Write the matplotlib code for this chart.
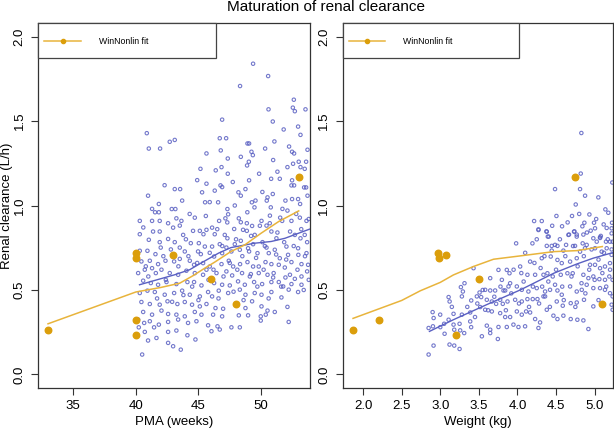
import matplotlib
matplotlib.use("Agg")
import matplotlib.pyplot as plt
from matplotlib.patches import Rectangle
from matplotlib.lines import Line2D

plt.rcParams['font.family'] = ['Liberation Sans', 'DejaVu Sans']

# ---------------- data ----------------
left_pts = [
    (49.36,1.839),(50.56,1.766),(48.32,1.707),(52.61,1.626),(52.53,1.579),(52.69,1.558),
    (50.59,1.569),(53.54,1.569),(46.89,1.508),(50.93,1.497),(52.95,1.467),(40.88,1.428),
    (53.14,1.418),(46.70,1.398),(47.21,1.398),(42.71,1.377),(43.11,1.388),(41.04,1.337),
    (41.94,1.337),(48.91,1.367),(49.04,1.367),(51.06,1.379),(52.23,1.349),(50.32,1.337),
    (46.78,1.326),(45.64,1.308),(52.47,1.318),(52.63,1.308),(49.23,1.318),(49.34,1.298),
    (48.38,1.288),(47.34,1.278),(50.96,1.269),(49.02,1.259),(53.00,1.259),(53.59,1.259),
    (52.55,1.247),(48.88,1.237),(46.84,1.227),(52.10,1.227),(53.14,1.227),(53.48,1.217),
    (45.16,1.217),(46.38,1.208),(47.34,1.188),(49.84,1.188),(50.80,1.158),(51.49,1.158),
    (49.04,1.149),(52.47,1.149),(45.64,1.129),(47.74,1.139),(46.76,1.119),(46.89,1.109),
    (52.42,1.119),(52.63,1.119),(53.43,1.107),(53.59,1.107),(43.11,1.097),(43.54,1.097),
    (48.75,1.097),(46.30,1.088),(45.29,1.078),(48.19,1.078),(48.38,1.058),(40.98,1.058),
    (50.93,1.068),(50.51,1.048),(50.45,1.029),(43.70,1.029),(46.57,1.019),(45.53,1.019),
    (41.84,1.009),(49.26,1.019),(49.55,1.029),(51.94,1.029),(52.47,1.038),(52.95,1.038),
    (53.70,1.058),(53.11,1.009),(49.47,0.989),(50.77,0.989),(52.10,0.970),(47.31,0.979),
    (41.54,0.960),(41.84,0.960),(42.87,0.979),(43.16,0.979),
    (47.37,0.948),(45.59,0.938),(40.32,0.909),(41.30,0.909),(41.91,0.909),(42.58,0.895),
    (43.24,0.924),(43.64,0.909),(44.71,0.928),(46.65,0.909),(47.15,0.924),(48.22,0.924),
    (48.38,0.901),(47.85,0.861),(48.86,0.895),(49.28,0.879),(50.03,0.909),(50.69,0.895),
    (51.52,0.928),(51.68,0.909),(52.42,0.909),(53.09,0.928),(53.62,0.909),
    (41.38,0.846),(41.91,0.846),(40.32,0.830),(42.98,0.869),(43.51,0.881),(43.78,0.826),
    (44.57,0.850),(45.11,0.850),(45.64,0.856),(46.09,0.869),(46.30,0.830),(47.10,0.826),
    (47.31,0.806),(48.56,0.856),(48.86,0.850),(49.49,0.826),(50.43,0.881),(50.82,0.846),
    (51.22,0.806),(52.31,0.846),(52.69,0.826),(53.14,0.806),(53.48,0.826),
    (41.04,0.797),(41.91,0.783),(42.58,0.802),(43.11,0.783),(44.39,0.777),(45.03,0.777),
    (45.51,0.757),(46.09,0.757),(46.70,0.771),(47.23,0.751),(47.90,0.771),(48.38,0.791),
    (48.96,0.747),(49.36,0.771),(50.11,0.783),(50.43,0.751),(51.84,0.783),(52.02,0.757),
    (52.95,0.747),(53.67,0.783),
    (40.32,0.732),(40.93,0.732),(41.57,0.712),(41.99,0.751),(43.51,0.751),(43.91,0.728),
    (44.97,0.728),(45.19,0.712),(46.25,0.698),(46.89,0.718),(47.63,0.728),(48.30,0.738),
    (49.04,0.728),(49.71,0.718),(50.61,0.718),(51.09,0.738),(51.49,0.688),(52.15,0.708),
    (52.97,0.708),(53.62,0.718),
    (40.45,0.669),(41.12,0.673),(41.78,0.653),(42.37,0.673),(43.06,0.669),(43.51,0.684),
    (44.31,0.673),(44.65,0.649),(45.37,0.659),(45.90,0.639),(46.84,0.653),(47.42,0.673),
    (47.77,0.639),(48.32,0.653),(48.91,0.665),(49.36,0.639),(49.81,0.639),(50.35,0.665),
    (50.82,0.653),(51.41,0.649),(51.89,0.633),(52.42,0.665),(53.22,0.653),(53.75,0.649),
    (40.19,0.600),(40.72,0.620),(41.30,0.629),(42.05,0.620),(42.71,0.600),(43.38,0.590),
    (44.04,0.614),(44.71,0.600),(45.37,0.590),(45.64,0.620),(46.44,0.600),(47.23,0.610),
    (47.69,0.586),(48.48,0.600),(49.18,0.594),(49.81,0.600),(50.51,0.590),(50.96,0.574),
    (51.94,0.574),(52.69,0.566),(53.22,0.580),(53.67,0.610),
    (40.59,0.555),(41.20,0.541),(41.78,0.531),(42.45,0.547),(43.24,0.535),(44.12,0.547),
    (44.65,0.547),(45.24,0.527),(46.25,0.541),(46.89,0.531),(47.50,0.527),(48.16,0.551),
    (48.70,0.531),(49.44,0.547),(50.08,0.535),(50.82,0.547),(51.41,0.547),(51.76,0.521),
    (52.42,0.535),(53.22,0.531),
    (40.32,0.482),(40.93,0.496),(41.52,0.488),(42.31,0.472),(43.06,0.482),(43.70,0.496),
    (44.31,0.472),(45.11,0.462),(45.77,0.488),(46.09,0.462),(46.62,0.496),(47.37,0.482),
    (48.30,0.502),(48.75,0.472),(49.49,0.482),(50.03,0.472),(50.82,0.488),(51.62,0.456),
    (52.20,0.502),(52.95,0.488),
    (40.45,0.429),(41.12,0.417),(41.91,0.413),(42.53,0.433),(43.32,0.417),(43.91,0.429),
    (44.49,0.413),(45.11,0.403),(45.64,0.417),(46.36,0.393),(46.97,0.389),(48.03,0.421),
    (48.75,0.393),(49.28,0.433),(50.03,0.403),(50.51,0.378),
    (40.59,0.370),(41.30,0.354),(42.05,0.378),(42.58,0.358),(43.24,0.354),(43.91,0.344),
    (44.71,0.370),(45.24,0.354),(46.17,0.354),(46.89,0.344),(48.22,0.350),(48.96,0.350),
    (49.97,0.344),(50.37,0.354),(51.09,0.370),
    (41.12,0.315),(41.84,0.295),(42.58,0.311),(43.38,0.325),(44.17,0.305),(44.84,0.315),
    (45.77,0.291),(46.52,0.285),(47.63,0.279),(48.30,0.279),(49.97,0.319),(52.20,0.311),
    (40.24,0.279),(40.72,0.252),(41.46,0.279),(42.58,0.252),(43.24,0.260),(44.12,0.232),
    (46.04,0.256),(46.70,0.266),(40.98,0.201),(41.65,0.216),(42.58,0.187),(42.98,0.167),
    (43.59,0.147),(44.76,0.207),(40.51,0.118),(40.19,0.325),(40.67,0.305),
    # further points in the dense middle band
    (40.6,0.87),(40.8,0.64),(41.0,0.58),(41.6,0.60),(41.7,0.45),(42.2,0.70),(42.4,0.56),
    (42.8,0.74),(42.9,0.43),(43.4,0.64),(43.8,0.47),(44.0,0.80),(44.2,0.70),(44.5,0.52),
    (44.9,0.66),(45.0,0.44),(45.4,0.83),(45.8,0.56),(45.9,0.72),(46.2,0.62),(46.5,0.86),
    (46.6,0.45),(46.9,0.76),(47.0,0.58),(47.3,0.90),(47.5,0.66),(47.8,0.49),(48.0,0.80),
    (48.1,0.62),(48.5,0.70),(48.6,0.44),(48.9,0.96),(49.1,0.58),(49.2,0.82),(49.6,0.69),
    (49.7,0.52),(49.9,0.88),(50.2,0.62),(50.3,0.76),(50.6,0.45),(50.7,0.94),(51.0,0.60),
    (51.2,0.71),(51.3,0.84),(51.6,0.52),(51.7,0.98),(52.0,0.68),(52.1,0.40),(52.3,0.59),
    (52.6,0.76),(52.8,0.95),(52.9,0.62),(53.2,0.86),(53.4,0.50),(53.5,0.70),(53.8,0.92),
    (53.8,0.56),(41.3,0.98),(44.3,0.95),(45.9,1.02),(47.9,1.00),(50.1,1.08),(51.3,1.20),
    (53.7,1.33),(51.8,1.45),(44.9,1.15),(42.3,1.12),
]
pma = [p[0] for p in left_pts]
cl_left = [p[1] for p in left_pts]

right_pts = [
    (4.828,1.429),(4.820,1.189),(4.487,1.097),(4.811,1.097),(5.229,1.136),(4.876,1.058),
    (5.048,1.048),(4.755,1.006),(5.139,0.977),(5.177,0.957),(4.505,0.938),(4.707,0.938),
    (4.932,0.947),(4.216,0.908),(4.315,0.908),(4.867,0.898),(4.992,0.898),(5.225,0.898),
    (4.272,0.859),(4.578,0.877),(4.841,0.877),(4.375,0.847),(4.738,0.847),(4.768,0.828),
    (4.949,0.851),(5.005,0.865),(5.117,0.888),(5.156,0.867),(4.393,0.816),(4.405,0.816),
    (4.668,0.828),(4.854,0.828),(5.070,0.808),(5.220,0.865),(5.220,0.835),
    (4.272,0.855),(4.380,0.845),(4.660,0.826),(4.733,0.845),(4.768,0.816),(4.983,0.806),
    (5.070,0.812),(3.983,0.776),(4.194,0.776),(4.380,0.761),(4.444,0.761),(4.487,0.767),
    (4.518,0.761),(4.630,0.767),(4.746,0.761),(4.845,0.776),(4.897,0.767),(5.027,0.786),
    (5.147,0.786),(5.199,0.786),(5.233,0.786),(5.005,0.747),(5.091,0.727),(5.156,0.747),
    (4.444,0.733),(4.595,0.733),(4.811,0.727),(4.875,0.747),(4.164,0.668),(4.315,0.688),
    (4.431,0.698),(4.518,0.678),(4.574,0.659),(4.682,0.668),(4.768,0.688),(4.940,0.649),
    (5.005,0.649),(5.070,0.629),(5.134,0.639),(5.199,0.659),(5.220,0.708),
    (3.431,0.629),(3.754,0.619),(3.862,0.619),(3.897,0.599),(4.035,0.639),(4.129,0.590),
    (4.229,0.590),(4.337,0.590),(4.388,0.599),(4.457,0.580),(4.561,0.590),(4.647,0.599),
    (4.716,0.599),(4.854,0.590),(4.919,0.570),(4.983,0.580),(5.061,0.564),(5.134,0.560),
    (5.190,0.580),(5.233,0.560),(3.314,0.540),(3.267,0.517),(3.293,0.491),(3.647,0.570),
    (3.798,0.560),(3.905,0.540),(3.582,0.501),(3.647,0.497),(3.711,0.497),(3.819,0.497),
    (3.841,0.497),(3.884,0.521),(3.992,0.521),(4.056,0.501),(4.142,0.491),(4.250,0.511),
    (4.358,0.491),(4.422,0.501),(4.487,0.531),(4.518,0.497),(4.574,0.472),(4.682,0.521),
    (4.768,0.491),(4.833,0.501),(4.897,0.531),(4.983,0.511),(5.070,0.511),(5.134,0.501),
    (5.199,0.481),(5.233,0.462),(3.108,0.458),(3.121,0.432),(3.280,0.462),(3.401,0.438),
    (3.474,0.462),(3.509,0.485),(3.530,0.458),(3.603,0.442),(3.668,0.432),(3.724,0.418),
    (3.776,0.442),(3.810,0.418),(3.871,0.432),(3.970,0.442),(4.056,0.432),(4.129,0.446),
    (4.198,0.446),(4.259,0.446),(4.337,0.462),(4.358,0.462),(4.509,0.432),(4.587,0.407),
    (4.690,0.422),(4.768,0.426),(4.862,0.442),(4.983,0.403),(5.220,0.413),(5.233,0.383),
    (2.901,0.369),(2.914,0.334),(2.999,0.354),(3.172,0.359),(3.280,0.354),(3.388,0.367),
    (3.517,0.399),(3.582,0.383),(3.668,0.373),(3.776,0.363),(3.841,0.340),(3.905,0.340),
    (3.992,0.373),(4.056,0.354),(4.112,0.373),(4.164,0.367),(4.229,0.328),(4.293,0.308),
    (4.380,0.383),(4.466,0.348),(4.518,0.328),(4.595,0.348),(4.690,0.328),(4.776,0.324),
    (4.854,0.320),(4.919,0.269),(2.849,0.275),(2.905,0.285),(3.108,0.324),(3.172,0.295),
    (3.181,0.265),(3.258,0.261),(3.388,0.314),(3.603,0.289),(3.647,0.265),(3.754,0.281),
    (3.862,0.281),(3.948,0.295),(4.013,0.281),(4.099,0.285),(4.272,0.275),(3.539,0.226),
    (3.647,0.245),(3.746,0.210),(2.913,0.171),(3.120,0.177),(3.181,0.171),(3.250,0.151),
    (2.849,0.118),(3.056,0.241),(3.310,0.245),
    # further points in the dense band
    (4.05,0.60),(4.10,0.72),(4.20,0.52),(4.25,0.80),(4.30,0.63),(4.35,0.70),(4.40,0.55),
    (4.45,0.88),(4.50,0.62),(4.55,0.80),(4.58,0.52),(4.62,0.70),(4.65,0.90),(4.70,0.58),
    (4.72,0.76),(4.78,0.64),(4.80,0.95),(4.83,0.54),(4.86,0.70),(4.90,0.84),(4.93,0.62),
    (4.96,0.74),(5.00,0.56),(5.02,0.92),(5.05,0.68),(5.08,0.82),(5.10,0.60),(5.12,0.72),
    (5.15,0.52),(5.17,0.80),(5.20,0.62),(5.22,0.74),(3.35,0.40),(3.45,0.34),(3.55,0.50),
    (3.62,0.38),(3.70,0.46),(3.78,0.52),(3.85,0.38),(3.92,0.48),(3.95,0.62),(4.02,0.42),
    (4.08,0.55),(4.15,0.40),(4.22,0.66),(4.28,0.42),(4.32,0.52),(4.42,0.40),(4.60,0.44),
    (4.75,0.40),(4.88,0.48),(5.05,0.44),(3.00,0.28),(3.05,0.30),(3.15,0.40),(3.25,0.30),
    (3.40,0.28),(3.48,0.42),
]
weight = [p[0] for p in right_pts]
cl_right = [p[1] for p in right_pts]

# WinNonlin individual points
obs_pma = [33, 40, 40, 40, 40, 43, 46, 48, 53]
obs_wt = [1.87, 2.97, 2.99, 2.21, 3.20, 3.08, 3.50, 5.10, 4.75]
obs_cl = [0.262, 0.718, 0.688, 0.320, 0.236, 0.708, 0.568, 0.419, 1.166]

# WinNonlin fit curves
fit_pma_x = [33.0, 40.0, 42.0, 43.5, 44.6, 45.5, 46.3, 47.6, 48.7, 50.0, 51.4, 53.0]
fit_pma_y = [0.300, 0.488, 0.515, 0.540, 0.586, 0.629, 0.665, 0.728, 0.767, 0.836, 0.905, 0.968]
fit_wt_x = [1.87, 2.50, 2.74, 3.00, 3.17, 3.43, 3.69, 4.04, 4.47, 4.77, 5.10]
fit_wt_y = [0.332, 0.438, 0.495, 0.545, 0.589, 0.639, 0.682, 0.702, 0.727, 0.733, 0.757]

# loess smooths
sm_pma_x = [40.3, 43.1, 44.3, 45.2, 46.6, 47.6, 49.5, 50.8, 51.9, 53.9]
sm_pma_y = [0.531, 0.590, 0.620, 0.659, 0.718, 0.751, 0.777, 0.787, 0.806, 0.861]
sm_wt_x = [2.86, 3.17, 3.60, 4.04, 4.47, 4.77, 4.98, 5.234]
sm_wt_y = [0.255, 0.324, 0.413, 0.501, 0.599, 0.654, 0.688, 0.721]

# ---------------- style ----------------
BLUE = '#5a60c2'
ORANGE_PT = '#DB9E0B'
ORANGE_LN = '#E8B43C'
FS = 9.5

fig = plt.figure(figsize=(6.14, 4.28), dpi=100)
axL = fig.add_axes([38/614, 40/428, 272/614, 365/428])
axR = fig.add_axes([342.7/614, 40/428, 270/614, 365/428])

def style(ax, xlim, xticks, xticklabels):
    ax.set_xlim(*xlim)
    ax.set_ylim(-0.08, 2.08)
    ax.set_xticks(xticks)
    ax.set_xticklabels(xticklabels)
    ax.set_yticks([0, 0.5, 1.0, 1.5, 2.0])
    ax.set_yticklabels(['0.0', '0.5', '1.0', '1.5', '2.0'])
    ax.tick_params(direction='out', length=5, width=0.8, labelsize=FS, color='#333333')
    ax.tick_params(axis='x', pad=3.5)
    ax.tick_params(axis='y', pad=4)
    for lab in ax.get_yticklabels():
        lab.set_rotation(90)
        lab.set_va('center')
    for s in ax.spines.values():
        s.set_color('#333333')
        s.set_linewidth(0.9)

def legend(ax):
    ax.add_patch(Rectangle((0, 1 - 35/365), 178/272, 35/365, transform=ax.transAxes,
                           facecolor='white', edgecolor='#444444', lw=0.9, zorder=5, clip_on=False))
    ax.add_line(Line2D([6/272, 43/272], [1 - 18/365, 1 - 18/365], transform=ax.transAxes,
                       color=ORANGE_LN, lw=1.1, zorder=6))
    ax.add_line(Line2D([24.5/272], [1 - 18/365], transform=ax.transAxes, marker='o',
                       markersize=3, color=ORANGE_PT, zorder=7))
    ax.text(61/272, 1 - 18/365, 'WinNonlin fit', transform=ax.transAxes, fontsize=6.3,
            va='center', ha='left', zorder=7)

# left panel
axL.scatter(pma, cl_left, s=6, facecolors='none', edgecolors=BLUE, linewidths=0.8, alpha=0.85, zorder=2)
axL.plot(sm_pma_x, sm_pma_y, color=BLUE, lw=1.0, zorder=3)
axL.plot(fit_pma_x, fit_pma_y, color=ORANGE_LN, lw=1.1, zorder=3)
axL.scatter(obs_pma, obs_cl, s=22, color=ORANGE_PT, zorder=4)
style(axL, (32.2, 53.9), [35, 40, 45, 50], ['35', '40', '45', '50'])
legend(axL)

# right panel
axR.scatter(weight, cl_right, s=6, facecolors='none', edgecolors=BLUE, linewidths=0.8, alpha=0.85, zorder=2)
axR.plot(sm_wt_x, sm_wt_y, color=BLUE, lw=1.0, zorder=3)
axR.plot(fit_wt_x, fit_wt_y, color=ORANGE_LN, lw=1.1, zorder=3)
axR.scatter(obs_wt, obs_cl, s=22, color=ORANGE_PT, zorder=4)
wt_ticks = [2.0, 2.5, 3.0, 3.5, 4.0, 4.5, 5.0]
style(axR, (1.736, 5.234), wt_ticks, ['%.1f' % t for t in wt_ticks])
legend(axR)

fig.text(326/614, 1 - 7/428, 'Maturation of renal clearance', ha='center', va='center', fontsize=11)
fig.text(7/614, 1 - 205.5/428, 'Renal clearance (L/h)', rotation=90, ha='center', va='center', fontsize=FS)
fig.text((38 + 136)/614, 1 - 421.5/428, 'PMA (weeks)', ha='center', va='center', fontsize=FS)
fig.text((342.7 + 135)/614, 1 - 421.5/428, 'Weight (kg)', ha='center', va='center', fontsize=FS)

fig.savefig('out.png', dpi=100)
